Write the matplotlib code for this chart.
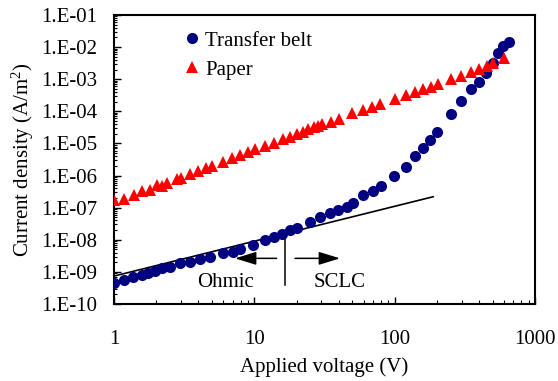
import numpy as np
import matplotlib
matplotlib.use("Agg")
import matplotlib.pyplot as plt
from matplotlib.ticker import LogLocator, FixedLocator, FixedFormatter, NullFormatter

plt.rcParams['font.family'] = ['Liberation Serif', 'DejaVu Serif']
plt.rcParams['mathtext.fontset'] = 'custom'
plt.rcParams['mathtext.rm'] = 'Liberation Serif'
plt.rcParams['mathtext.it'] = 'Liberation Serif:italic'

# transfer belt (V, A/m2)
belt_v = [1.0, 1.18, 1.37, 1.58, 1.76, 1.96, 2.19, 2.51, 2.95, 3.48, 4.10, 4.83,
          6.01, 7.05, 7.91, 9.84, 11.9, 13.7, 15.7, 17.9, 20.0, 24.9, 29.4, 34.6,
          39.7, 45.6, 50.3, 59.8, 69.8, 79.6, 99.6, 120.6, 140.5, 158.6, 179.6,
          200.4, 250, 298, 349, 402, 451, 500, 544, 596, 653]
belt_j = [4.6e-10, 5.6e-10, 7.0e-10, 7.9e-10, 9.0e-10, 1.08e-9, 1.29e-9, 1.38e-9,
          1.84e-9, 2.07e-9, 2.45e-9, 2.83e-9, 3.77e-9, 4.23e-9, 5.0e-9, 6.8e-9,
          9.8e-9, 1.24e-8, 1.51e-8, 2.0e-8, 2.26e-8, 3.64e-8, 5.2e-8, 6.6e-8,
          8.4e-8, 1.07e-7, 1.42e-7, 2.47e-7, 3.29e-7, 4.71e-7, 9.86e-7, 1.88e-6,
          4.14e-6, 7.0e-6, 1.30e-5, 2.31e-5, 8.1e-5, 2.12e-4, 4.95e-4, 8.07e-4,
          1.53e-3, 3.13e-3, 6.4e-3, 1.08e-2, 1.47e-2]

# paper
paper_v = [1.0, 1.18, 1.39, 1.59, 1.80, 2.01, 2.21, 2.40, 2.80, 2.99, 3.48, 3.99,
           4.49, 5.02, 5.98, 6.93, 7.95, 8.97, 10.05, 11.9, 13.9, 15.9, 17.9, 20.0,
           22.2, 24.3, 26.4, 28.3, 30.2, 34.9, 40.0, 49.8, 59.5, 69.5, 78.6, 100.1,
           120.6, 140.5, 158.6, 181.6, 202, 250, 299, 349, 402, 452, 503, 600]
paper_j = [1.73e-7, 1.85e-7, 2.47e-7, 3.36e-7, 3.53e-7, 4.95e-7, 4.81e-7, 5.7e-7,
           7.6e-7, 8.4e-7, 1.11e-6, 1.41e-6, 1.67e-6, 1.98e-6, 2.60e-6, 3.44e-6,
           4.48e-6, 5.40e-6, 6.55e-6, 8.3e-6, 1.05e-5, 1.34e-5, 1.62e-5, 1.92e-5,
           2.31e-5, 2.75e-5, 3.18e-5, 3.48e-5, 3.94e-5, 4.74e-5, 5.63e-5, 8.7e-5,
           1.10e-4, 1.39e-4, 1.73e-4, 2.37e-4, 3.15e-4, 4.08e-4, 4.95e-4, 5.83e-4,
           7.08e-4, 1.0e-3, 1.30e-3, 1.65e-3, 2.12e-3, 2.61e-3, 3.13e-3, 4.48e-3]

# ohmic fit line
fit_v = [1.0, 188]
fit_j = [7.4e-10, 2.19e-7]
v_cross = 16.5

ytick_exp = list(range(-10, 0))
ytick_labels = [f"1.E-{abs(e):02d}" for e in ytick_exp]
xticks = [1, 10, 100, 1000]

fs = 15

fig = plt.figure(figsize=(5.58, 3.81), dpi=100)
ax = fig.add_axes([0.2043, 0.2021, 0.7545, 0.7585])

ax.plot(belt_v, belt_j, 'o', color='#000080', ms=8, mew=0, label='Transfer belt', zorder=3)
ax.plot(paper_v, paper_j, '^', color='#ff0000', ms=8.5, mew=0, label='Paper', zorder=3)
ax.plot(fit_v, fit_j, '-', color='black', lw=1.2, zorder=2)
ax.plot([v_cross, v_cross], [1.4e-8, 3.9e-10], '-', color='black', lw=1.1)

ap = dict(arrowstyle='-|>,head_length=0.65,head_width=0.2', color='black', lw=1.1,
          mutation_scale=20, shrinkA=0, shrinkB=0)
ax.annotate('', xy=(7.28, 2.64e-9), xytext=(14.4, 2.64e-9), arrowprops=ap)
ax.annotate('', xy=(40.8, 2.64e-9), xytext=(19.5, 2.64e-9), arrowprops=ap)
ax.text(6.18, 4.7e-10, 'Ohmic', ha='center', va='center', fontsize=fs)
ax.text(40.8, 4.7e-10, 'SCLC', ha='center', va='center', fontsize=fs)

ax.set_xscale('log')
ax.set_yscale('log')
ax.set_xlim(1, 1000)
ax.set_ylim(1e-10, 1e-1)

ax.xaxis.set_major_locator(FixedLocator(xticks))
ax.xaxis.set_major_formatter(FixedFormatter([str(t) for t in xticks]))
ax.xaxis.set_minor_locator(LogLocator(base=10, subs=np.arange(2, 10), numticks=100))
ax.xaxis.set_minor_formatter(NullFormatter())
ax.yaxis.set_major_locator(FixedLocator([10.0 ** e for e in ytick_exp]))
ax.yaxis.set_major_formatter(FixedFormatter(ytick_labels))
ax.yaxis.set_minor_locator(LogLocator(base=10, subs=np.arange(2, 10), numticks=100))
ax.yaxis.set_minor_formatter(NullFormatter())

ax.tick_params(which='both', direction='in', top=False, right=False, labelsize=fs)
ax.tick_params(axis='x', which='major', length=5, width=1, pad=19)
ax.tick_params(axis='x', which='minor', length=3, width=0.8)
ax.tick_params(axis='y', which='major', length=5, width=1, pad=12)
ax.tick_params(axis='y', which='minor', length=2.5, width=0.8)
for s in ax.spines.values():
    s.set_linewidth(1.5)

ax.set_xlabel('Applied voltage (V)', fontsize=fs, labelpad=6)
ax.set_ylabel('Current density (A/m$^{2}$)', fontsize=fs, labelpad=4)

ax.legend(loc='upper left', bbox_to_anchor=(0.166, 0.944), frameon=False, fontsize=fs,
          handlelength=0.8, handletextpad=0.23, labelspacing=0.45, borderaxespad=0,
          borderpad=0)

fig.savefig('out.png', dpi=100)
